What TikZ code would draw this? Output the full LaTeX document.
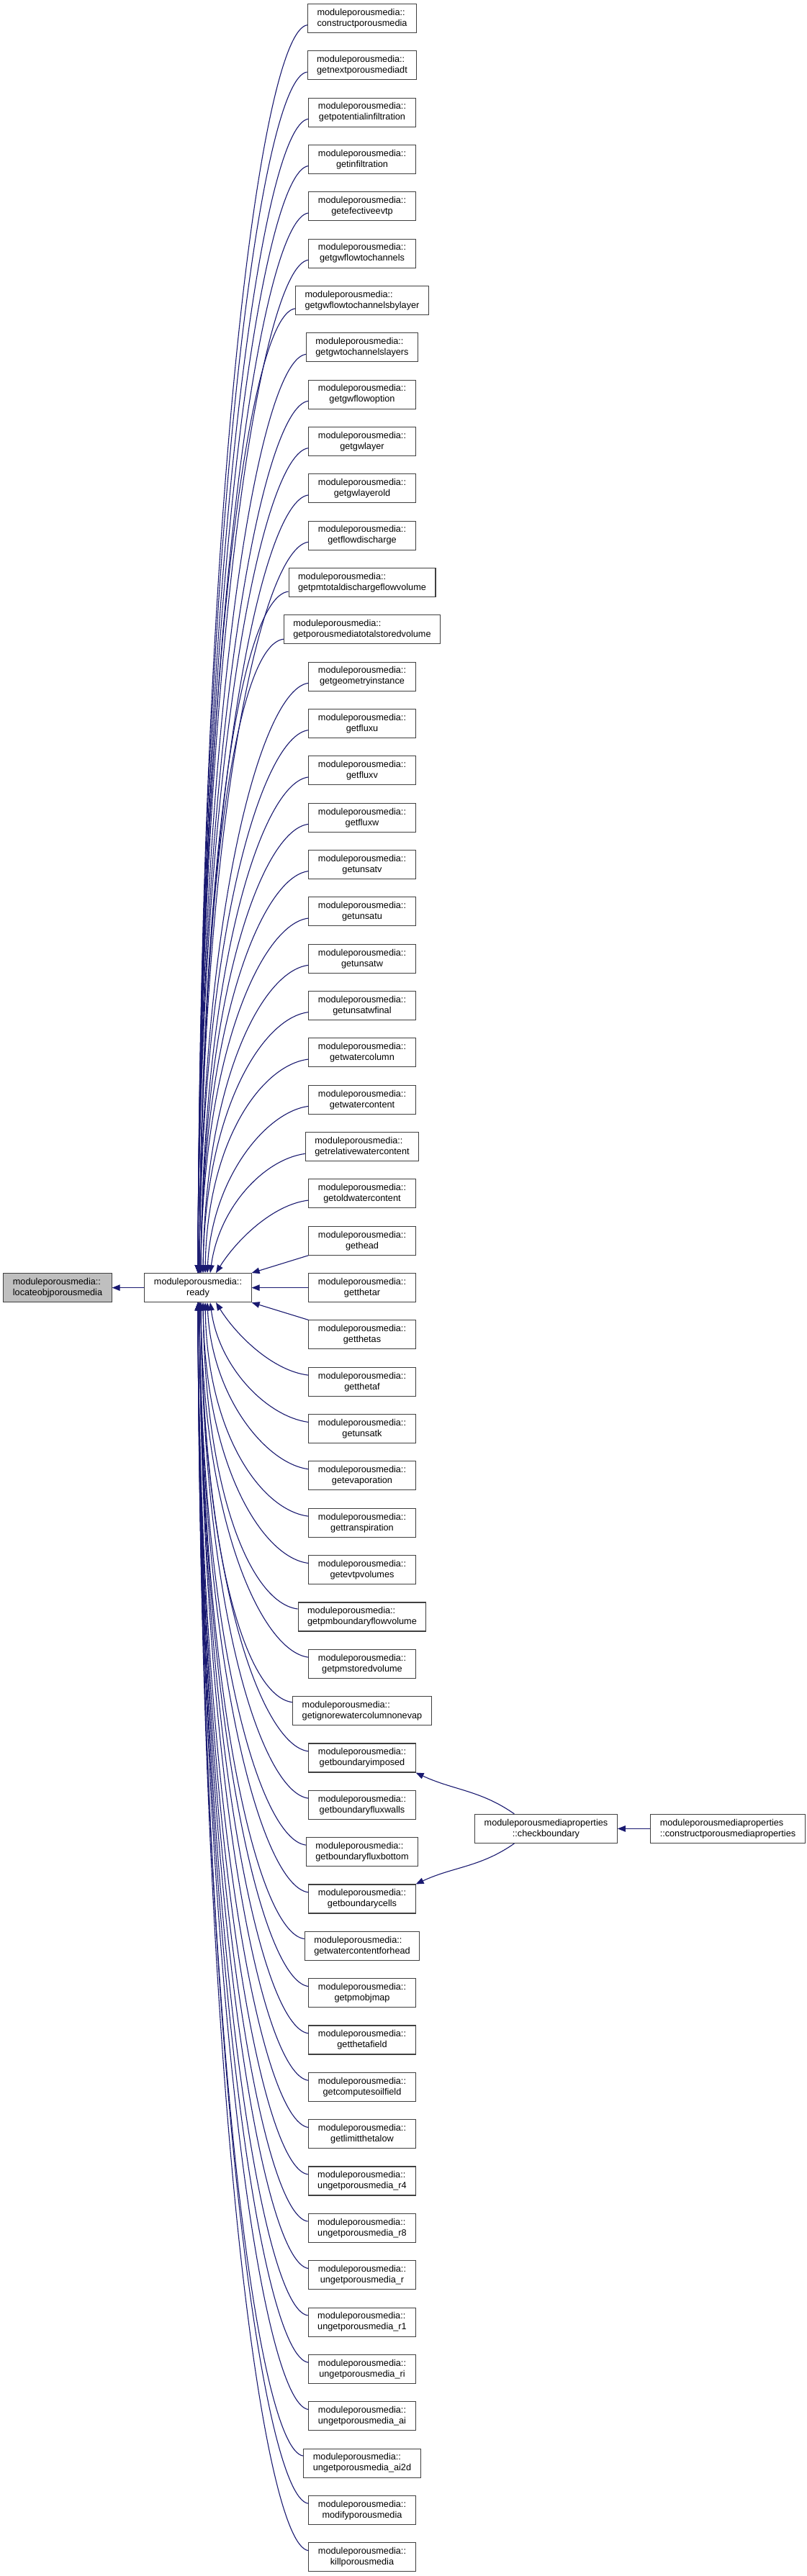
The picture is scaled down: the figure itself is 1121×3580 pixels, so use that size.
\documentclass[tikz,border=0pt]{standalone}
\usepackage{fontspec}
\setmainfont{Liberation Sans}
\usetikzlibrary{arrows.meta}
\definecolor{edgeblue}{HTML}{191970}
\definecolor{boxgray}{HTML}{BFBFBF}
\definecolor{boxline}{HTML}{404040}

\begin{document}
\begin{tikzpicture}[
    x=1pt, y=-1pt,
    >={Triangle[length=11pt, width=8.5pt]},
    fn/.style={draw=boxline, line width=1.1pt, fill=white, align=center,
      font=\fontsize{12.7}{15}\selectfont, inner xsep=13pt, inner ysep=0pt,
      minimum height=40pt},
    fnleft/.style={fn, align=left},
    call/.style={->, draw=edgeblue, line width=1.1pt},
  ]
  \useasboundingbox (0,0) rectangle (1121,3580);
  \fill[white] (0,0) rectangle (1121,3580);

  % ===== Left: the function and its direct caller =====
  \node[fnleft, fill=boxgray] (locate) at (80,1789.6)
    {moduleporousmedia::\\locateobjporousmedia};
  \node[fn] (ready) at (275,1789.6) {moduleporousmedia::\\ready};

  % ===== Callers of ready =====
  \node[fnleft] (construct) at (503,25.4) {moduleporousmedia::\\constructporousmedia};
  \node[fnleft] (nextdt) at (503,90.7) {moduleporousmedia::\\getnextporousmediadt};
  \node[fn] (potinfil) at (503,156.1) {moduleporousmedia::\\getpotentialinfiltration};
  \node[fn] (infil) at (503,221.4) {moduleporousmedia::\\getinfiltration};
  \node[fn] (efevtp) at (503,286.8) {moduleporousmedia::\\getefectiveevtp};
  \node[fn] (gwflowch) at (503,352.1) {moduleporousmedia::\\getgwflowtochannels};
  \node[fnleft] (gwflowchlayer) at (503,417.4) {moduleporousmedia::\\getgwflowtochannelsbylayer};
  \node[fnleft] (gwchlayers) at (503,482.8) {moduleporousmedia::\\getgwtochannelslayers};
  \node[fn] (gwflowopt) at (503,548.1) {moduleporousmedia::\\getgwflowoption};
  \node[fn] (gwlayer) at (503,613.5) {moduleporousmedia::\\getgwlayer};
  \node[fn] (gwlayerold) at (503,678.8) {moduleporousmedia::\\getgwlayerold};
  \node[fn] (flowdis) at (503,744.1) {moduleporousmedia::\\getflowdischarge};
  \node[fnleft] (pmtotdis) at (503,809.5) {moduleporousmedia::\\getpmtotaldischargeflowvolume};
  \node[fnleft] (pmtotstored) at (503,874.8) {moduleporousmedia::\\getporousmediatotalstoredvolume};
  \node[fn] (geometry) at (503,940.2) {moduleporousmedia::\\getgeometryinstance};
  \node[fn] (fluxu) at (503,1005.5) {moduleporousmedia::\\getfluxu};
  \node[fn] (fluxv) at (503,1070.8) {moduleporousmedia::\\getfluxv};
  \node[fn] (fluxw) at (503,1136.2) {moduleporousmedia::\\getfluxw};
  \node[fn] (unsatv) at (503,1201.5) {moduleporousmedia::\\getunsatv};
  \node[fn] (unsatu) at (503,1266.9) {moduleporousmedia::\\getunsatu};
  \node[fn] (unsatw) at (503,1332.2) {moduleporousmedia::\\getunsatw};
  \node[fn] (unsatwfinal) at (503,1397.5) {moduleporousmedia::\\getunsatwfinal};
  \node[fn] (watercol) at (503,1462.9) {moduleporousmedia::\\getwatercolumn};
  \node[fn] (watercont) at (503,1528.2) {moduleporousmedia::\\getwatercontent};
  \node[fnleft] (relwatercont) at (503,1593.6) {moduleporousmedia::\\getrelativewatercontent};
  \node[fn] (oldwatercont) at (503,1658.9) {moduleporousmedia::\\getoldwatercontent};
  \node[fn] (head) at (503,1724.2) {moduleporousmedia::\\gethead};
  \node[fn] (thetar) at (503,1789.6) {moduleporousmedia::\\getthetar};
  \node[fn] (thetas) at (503,1854.9) {moduleporousmedia::\\getthetas};
  \node[fn] (thetaf) at (503,1920.3) {moduleporousmedia::\\getthetaf};
  \node[fn] (unsatk) at (503,1985.6) {moduleporousmedia::\\getunsatk};
  \node[fn] (evap) at (503,2050.9) {moduleporousmedia::\\getevaporation};
  \node[fn] (transp) at (503,2116.3) {moduleporousmedia::\\gettranspiration};
  \node[fn] (evtpvol) at (503,2181.6) {moduleporousmedia::\\getevtpvolumes};
  \node[fnleft] (pmbndflow) at (503,2247.0) {moduleporousmedia::\\getpmboundaryflowvolume};
  \node[fn] (pmstored) at (503,2312.3) {moduleporousmedia::\\getpmstoredvolume};
  \node[fnleft] (ignorewc) at (503,2377.6) {moduleporousmedia::\\getignorewatercolumnonevap};
  \node[fn] (bndimposed) at (503,2443.0) {moduleporousmedia::\\getboundaryimposed};
  \node[fn] (bndwalls) at (503,2508.3) {moduleporousmedia::\\getboundaryfluxwalls};
  \node[fnleft] (bndbottom) at (503,2573.7) {moduleporousmedia::\\getboundaryfluxbottom};
  \node[fn] (bndcells) at (503,2639.0) {moduleporousmedia::\\getboundarycells};
  \node[fnleft] (wcforhead) at (503,2704.3) {moduleporousmedia::\\getwatercontentforhead};
  \node[fn] (pmobjmap) at (503,2769.7) {moduleporousmedia::\\getpmobjmap};
  \node[fn] (thetafield) at (503,2835.0) {moduleporousmedia::\\getthetafield};
  \node[fn] (soilfield) at (503,2900.4) {moduleporousmedia::\\getcomputesoilfield};
  \node[fn] (limittheta) at (503,2965.7) {moduleporousmedia::\\getlimitthetalow};
  \node[fnleft] (ungetr4) at (503,3031.0) {moduleporousmedia::\\ungetporousmedia\_r4};
  \node[fnleft] (ungetr8) at (503,3096.4) {moduleporousmedia::\\ungetporousmedia\_r8};
  \node[fn] (ungetr) at (503,3161.7) {moduleporousmedia::\\ungetporousmedia\_r};
  \node[fnleft] (ungetr1) at (503,3227.1) {moduleporousmedia::\\ungetporousmedia\_r1};
  \node[fn] (ungetri) at (503,3292.4) {moduleporousmedia::\\ungetporousmedia\_ri};
  \node[fn] (ungetai) at (503,3357.7) {moduleporousmedia::\\ungetporousmedia\_ai};
  \node[fnleft] (ungetai2d) at (503,3423.1) {moduleporousmedia::\\ungetporousmedia\_ai2d};
  \node[fn] (modify) at (503,3488.4) {moduleporousmedia::\\modifyporousmedia};
  \node[fn] (kill) at (503,3553.8) {moduleporousmedia::\\killporousmedia};

  % ===== Right: callers of the boundary getters =====
  \node[fn] (checkbnd) at (758.5,2541.4) {moduleporousmediaproperties\\::checkboundary};
  \node[fnleft] (constructprop) at (1011,2541.4)
    {moduleporousmediaproperties\\::constructporousmediaproperties};

  % ===== Edges =====
  \draw[call] (ready) -- (locate);

  % upper callers
  \draw[call] (construct.187) .. controls +(-65,8) and +(3,-1075) .. (ready.north);
  \draw[call] (nextdt.187) .. controls +(-65,8) and +(3,-1034) .. (ready.north);
  \draw[call] (potinfil.187) .. controls +(-65,8) and +(3,-994) .. (ready.north);
  \draw[call] (infil.187) .. controls +(-65,8) and +(3,-953) .. (ready.north);
  \draw[call] (efevtp.187) .. controls +(-65,8) and +(3,-913) .. (ready.north);
  \draw[call] (gwflowch.187) .. controls +(-65,8) and +(3,-872) .. (ready.north);
  \draw[call] (gwflowchlayer.187) .. controls +(-65,8) and +(3,-832) .. (ready.north);
  \draw[call] (gwchlayers.187) .. controls +(-65,8) and +(3,-791) .. (ready.north);
  \draw[call] (gwflowopt.187) .. controls +(-65,8) and +(3,-751) .. (ready.north);
  \draw[call] (gwlayer.187) .. controls +(-65,8) and +(3,-710) .. (ready.north);
  \draw[call] (gwlayerold.187) .. controls +(-65,8) and +(3,-670) .. ([xshift=2pt]ready.north);
  \draw[call] (flowdis.187) .. controls +(-65,8) and +(3,-629) .. ([xshift=2pt]ready.north);
  \draw[call] (pmtotdis.187) .. controls +(-65,8) and +(3,-589) .. ([xshift=2pt]ready.north);
  \draw[call] (pmtotstored.187) .. controls +(-65,8) and +(3,-548) .. ([xshift=2pt]ready.north);
  \draw[call] (geometry.187) .. controls +(-65,8) and +(3,-508) .. ([xshift=2pt]ready.north);
  \draw[call] (fluxu.187) .. controls +(-65,8) and +(3,-467) .. ([xshift=2pt]ready.north);
  \draw[call] (fluxv.187) .. controls +(-65,8) and +(3,-427) .. ([xshift=4pt]ready.north);
  \draw[call] (fluxw.187) .. controls +(-65,8) and +(3,-386) .. ([xshift=4pt]ready.north);
  \draw[call] (unsatv.187) .. controls +(-65,8) and +(3,-346) .. ([xshift=4pt]ready.north);
  \draw[call] (unsatu.187) .. controls +(-65,8) and +(3,-305) .. ([xshift=4pt]ready.north);
  \draw[call] (unsatw.187) .. controls +(-65,8) and +(3,-265) .. ([xshift=7pt]ready.north);
  \draw[call] (unsatwfinal.187) .. controls +(-65,8) and +(3,-224) .. ([xshift=7pt]ready.north);
  \draw[call] (watercol.187) .. controls +(-65,8) and +(3,-184) .. ([xshift=10pt]ready.north);
  \draw[call] (watercont.187) .. controls +(-60,8) and +(6,-130) .. ([xshift=13pt]ready.north);
  \draw[call] (relwatercont.187) .. controls +(-58,8) and +(12,-90) .. ([xshift=17pt]ready.north);
  \draw[call] (oldwatercont.187) .. controls +(-50,6) and +(28,-45) .. ([xshift=25pt]ready.north);

  % neighbours of ready
  \draw[call] (head.south west) -- (ready.north east);
  \draw[call] (thetar.west) -- (ready.east);
  \draw[call] (thetas.north west) -- (ready.south east);

  % lower callers
  \draw[call] (thetaf.173) .. controls +(-50,-6) and +(28,45) .. ([xshift=25pt]ready.south);
  \draw[call] (unsatk.173) .. controls +(-58,-8) and +(12,90) .. ([xshift=17pt]ready.south);
  \draw[call] (evap.173) .. controls +(-60,-8) and +(6,130) .. ([xshift=13pt]ready.south);
  \draw[call] (transp.173) .. controls +(-65,-8) and +(3,184) .. ([xshift=10pt]ready.south);
  \draw[call] (evtpvol.173) .. controls +(-65,-8) and +(3,224) .. ([xshift=7pt]ready.south);
  \draw[call] (pmbndflow.173) .. controls +(-65,-8) and +(3,265) .. ([xshift=7pt]ready.south);
  \draw[call] (pmstored.173) .. controls +(-65,-8) and +(3,305) .. ([xshift=4pt]ready.south);
  \draw[call] (ignorewc.173) .. controls +(-65,-8) and +(3,346) .. ([xshift=4pt]ready.south);
  \draw[call] (bndimposed.173) .. controls +(-65,-8) and +(3,386) .. ([xshift=4pt]ready.south);
  \draw[call] (bndwalls.173) .. controls +(-65,-8) and +(3,427) .. ([xshift=4pt]ready.south);
  \draw[call] (bndbottom.173) .. controls +(-65,-8) and +(3,467) .. ([xshift=2pt]ready.south);
  \draw[call] (bndcells.173) .. controls +(-65,-8) and +(3,508) .. ([xshift=2pt]ready.south);
  \draw[call] (wcforhead.173) .. controls +(-65,-8) and +(3,548) .. ([xshift=2pt]ready.south);
  \draw[call] (pmobjmap.173) .. controls +(-65,-8) and +(3,589) .. ([xshift=2pt]ready.south);
  \draw[call] (thetafield.173) .. controls +(-65,-8) and +(3,629) .. ([xshift=2pt]ready.south);
  \draw[call] (soilfield.173) .. controls +(-65,-8) and +(3,670) .. ([xshift=2pt]ready.south);
  \draw[call] (limittheta.173) .. controls +(-65,-8) and +(3,710) .. (ready.south);
  \draw[call] (ungetr4.173) .. controls +(-65,-8) and +(3,751) .. (ready.south);
  \draw[call] (ungetr8.173) .. controls +(-65,-8) and +(3,791) .. (ready.south);
  \draw[call] (ungetr.173) .. controls +(-65,-8) and +(3,832) .. (ready.south);
  \draw[call] (ungetr1.173) .. controls +(-65,-8) and +(3,872) .. (ready.south);
  \draw[call] (ungetri.173) .. controls +(-65,-8) and +(3,913) .. (ready.south);
  \draw[call] (ungetai.173) .. controls +(-65,-8) and +(3,953) .. (ready.south);
  \draw[call] (ungetai2d.173) .. controls +(-65,-8) and +(3,994) .. (ready.south);
  \draw[call] (modify.173) .. controls +(-65,-8) and +(3,1034) .. (ready.south);
  \draw[call] (kill.173) .. controls +(-65,-8) and +(3,1075) .. (ready.south);

  % checkboundary
  \draw[call] (checkbnd.155) to[out=145, in=-25] (bndimposed.south east);
  \draw[call] (checkbnd.205) to[out=-145, in=25] (bndcells.north east);
  \draw[call] (constructprop) -- (checkbnd);
\end{tikzpicture}
\end{document}
